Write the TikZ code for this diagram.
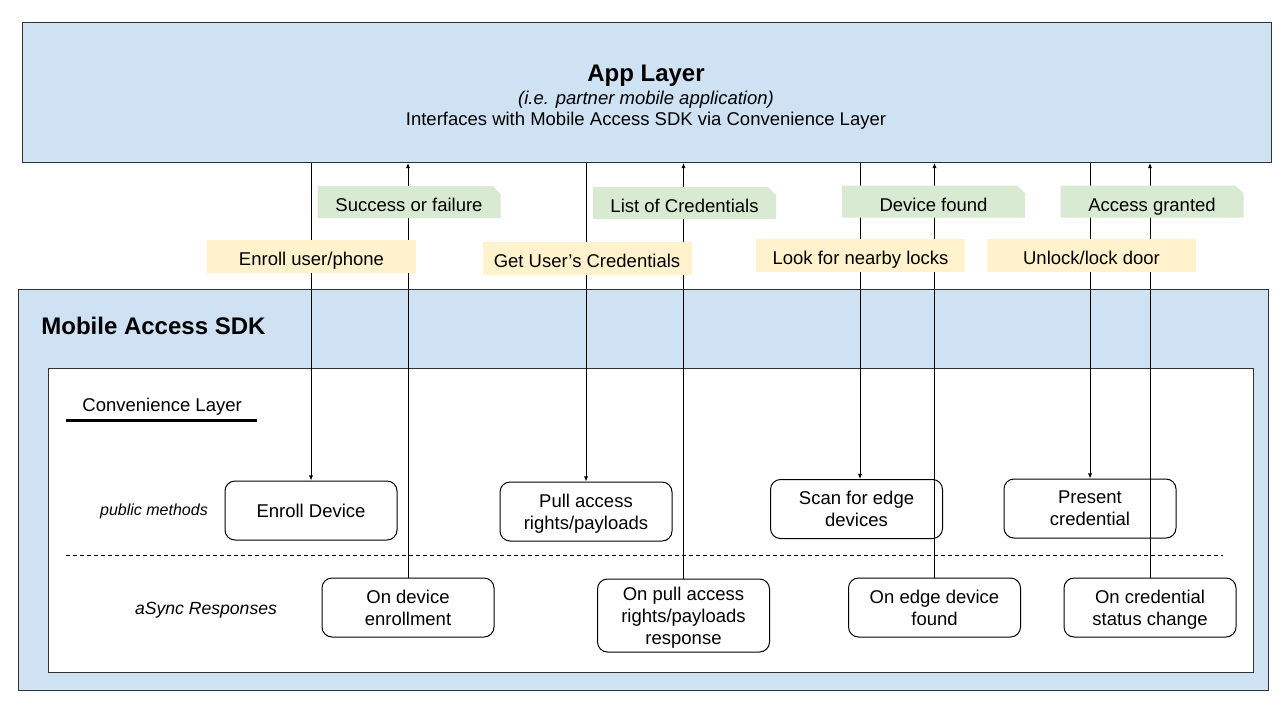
\documentclass[tikz,border=0pt]{standalone}
\usepackage{fontspec}
\setmainfont{Liberation Sans}
\usetikzlibrary{arrows.meta,positioning,shapes.misc}
\definecolor{layerblue}{HTML}{CFE2F3}
\definecolor{replygreen}{HTML}{D9EAD3}
\definecolor{callyellow}{HTML}{FFF2CC}
\definecolor{edgegray}{RGB}{50,50,50}

\begin{document}
\begin{tikzpicture}[
        x=0.5pt, y=-0.5pt,
        font=\fontsize{9.25}{11}\selectfont,
        every node/.append style={text depth=0pt},
        layer/.style={
                draw=edgegray, line width=0.5pt, fill=layerblue,
                anchor=north west, inner sep=0pt
            },
        method/.style={
                draw, rounded corners=5pt, line width=0.5pt, fill=white,
                align=center, minimum width=86pt, minimum height=29.5pt, inner sep=2pt
            },
        call/.style={
                fill=callyellow, minimum width=104.5pt, minimum height=16.5pt,
                inner sep=0pt, text height=8.5pt
            },
        reply/.style={
                fill=replygreen, chamfered rectangle, chamfered rectangle corners=north east,
                chamfered rectangle xsep=2pt, chamfered rectangle ysep=2pt,
                minimum width=91.5pt, minimum height=16pt, inner sep=0pt, text height=9.5pt
            },
        note/.style={font=\fontsize{8}{10}\selectfont\itshape},
        arr/.style={-{Latex[length=2.6pt,width=2.2pt]}, line width=0.5pt}
    ]
    \useasboundingbox (0,0) rectangle (1284,718);

    % layers
    \node[layer, minimum width=624.5pt, minimum height=70pt] (app) at (22,22) {};
    \node[font=\fontsize{12}{14}\selectfont\bfseries] (apptitle) at (646,73) {App Layer};
    \node[font=\fontsize{9.25}{11}\selectfont\itshape] (appsub) at (646,98) {(i.e. partner mobile application)};
    \node (appnote) at (646,119) {Interfaces with Mobile Access SDK via Convenience Layer};

    \node[layer, minimum width=625pt, minimum height=200.5pt] (sdk) at (18,289) {};
    \node[font=\fontsize{12}{14}\selectfont\bfseries, anchor=west, inner sep=0pt] (sdktitle) at (41,326) {Mobile Access SDK};

    \node[layer, fill=white, minimum width=602.5pt, minimum height=152pt] (conv) at (48,368) {};
    \node[anchor=west, inner sep=0pt] (convtitle) at (82,405) {Convenience Layer};
    \draw[line width=1.5pt] (66,420) -- (257,420);
    \draw[dash pattern=on 2pt off 1.5pt, line width=0.5pt] (66,555) -- (1223,555);

    \node[note] (pubnote) at (154,510) {public methods};
    \node[note, font=\fontsize{8.8}{10}\selectfont\itshape] (asyncnote) at (206,608) {aSync Responses};

    % public methods
    \node[method] (enroll) at (311,510.5) {Enroll Device};
    \node[method] (pull) at (586,511.5) {Pull access\\rights/payloads};
    \node[method] (scan) at (856.5,509) {Scan for edge\\devices};
    \node[method] (present) at (1090,508.5) {Present\\credential};

    % async responses
    \node[method] (onenroll) at (408,607.5) {On device\\enrollment};
    \node[method, minimum height=36.5pt] (onpull) at (683.5,615.5) {On pull access\\rights/payloads\\response};
    \node[method] (onscan) at (934.5,607.5) {On edge device\\found};
    \node[method] (oncred) at (1150,607.5) {On credential\\status change};

    % calls and replies
    \draw[arr] (app.south -| enroll) -- (enroll.north);
    \draw[arr] (app.south -| pull) -- (pull.north);
    \draw[arr] ([xshift=1.75pt]app.south -| scan) -- ([xshift=1.75pt]scan.north);
    \draw[arr] (app.south -| present) -- (present.north);
    \draw[arr] (onenroll.north) -- (onenroll.north |- app.south);
    \draw[arr] (onpull.north) -- (onpull.north |- app.south);
    \draw[arr] (onscan.north) -- (onscan.north |- app.south);
    \draw[arr] (oncred.north) -- (oncred.north |- app.south);

    \node[reply] (success) at (409,202) {Success or failure};
    \node[reply] (credlist) at (684.5,203) {List of Credentials};
    \node[reply] (found) at (933.5,201.5) {Device found};
    \node[reply] (granted) at (1152,201.5) {Access granted};

    \node[call] (enrolluser) at (311.5,256.5) {Enroll user/phone};
    \node[call] (getcreds) at (587,258.5) {Get User’s Credentials};
    \node[call] (looklocks) at (860.5,255.5) {Look for nearby locks};
    \node[call] (unlock) at (1091.5,255.5) {Unlock/lock door};
\end{tikzpicture}
\end{document}
